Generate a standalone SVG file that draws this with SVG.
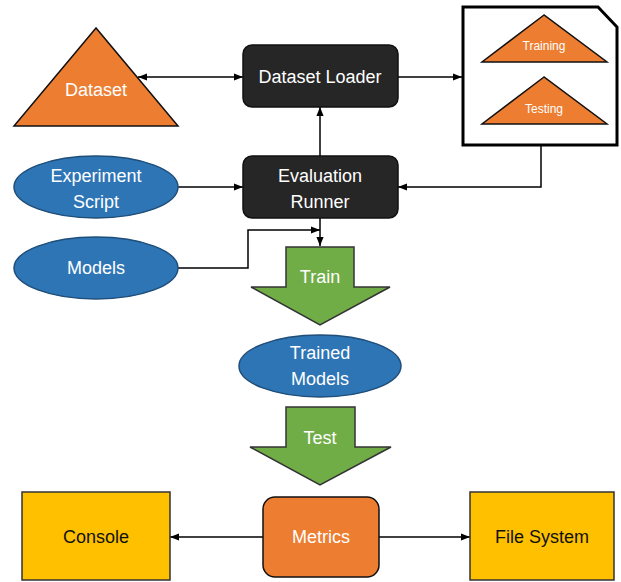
<svg xmlns="http://www.w3.org/2000/svg" width="621" height="582" viewBox="0 0 621 582">
<style>
text{font-family:"Liberation Sans",Arial,sans-serif;text-anchor:middle;dominant-baseline:central}
.w{fill:#fff;font-size:18px}
.k{fill:#111;font-size:18px}
.s{fill:#fff;font-size:12px}
.tri{fill:#ED7D31;stroke:#111;stroke-width:1.5}
.dark{fill:#262626;stroke:#111;stroke-width:1.5}
.ell{fill:#2E75B6;stroke:#1F4E79;stroke-width:1.5}
.grn{fill:#70AD47;stroke:#333;stroke-width:1.5}
.yel{fill:#FFC000;stroke:#333;stroke-width:1.5}
.org{fill:#ED7D31;stroke:#111;stroke-width:1.5}
.c{fill:none;stroke:#000;stroke-width:1.5}
</style>
<defs>
<marker id="ah" viewBox="0 0 10 10" refX="10" refY="5" markerWidth="6" markerHeight="6" orient="auto-start-reverse">
<path d="M0,1 L10,5 L0,9 Z" fill="#000"/>
</marker>
</defs>
<g id="connectors">
<line class="c" x1="138" y1="77" x2="243" y2="77" marker-start="url(#ah)" marker-end="url(#ah)"/>
<line class="c" x1="398" y1="77" x2="462" y2="77" marker-end="url(#ah)"/>
<line class="c" x1="320" y1="156" x2="320" y2="107" marker-end="url(#ah)"/>
<polyline class="c" points="541,145 541,187 398,187" marker-end="url(#ah)"/>
<line class="c" x1="178" y1="187" x2="243" y2="187" marker-end="url(#ah)"/>
<polyline class="c" points="178,268 248,268 248,230 320,230" marker-end="url(#ah)"/>
<line class="c" x1="320" y1="218" x2="320" y2="246" marker-end="url(#ah)"/>
<line class="c" x1="263" y1="537" x2="170" y2="537" marker-end="url(#ah)"/>
<line class="c" x1="379" y1="537" x2="470" y2="537" marker-end="url(#ah)"/>
</g>
<g id="dataset">
<polygon class="tri" points="96,28 14,126 178,126"/>
<text class="w" x="96" y="90">Dataset</text>
</g>
<g id="dataset-loader">
<rect class="dark" x="243" y="45" width="155" height="62" rx="9"/>
<text class="w" x="320" y="77">Dataset Loader</text>
</g>
<g id="splits">
<path d="M463,7 L598,7 L617,27 L617,145 L463,145 Z" fill="#fff" stroke="#000" stroke-width="3"/>
<polygon class="tri" points="544,15 482,62 607,62"/>
<text class="s" x="544" y="46">Training</text>
<polygon class="tri" points="544,77 482,124 607,124"/>
<text class="s" x="544" y="109">Testing</text>
</g>
<g id="evaluation-runner">
<rect class="dark" x="243" y="156" width="155" height="62" rx="9"/>
<text class="w" x="320" y="176">Evaluation</text>
<text class="w" x="320" y="202">Runner</text>
</g>
<g id="experiment-script">
<ellipse class="ell" cx="96" cy="187" rx="82" ry="31"/>
<text class="w" x="96" y="176">Experiment</text>
<text class="w" x="96" y="202">Script</text>
</g>
<g id="models">
<ellipse class="ell" cx="96" cy="268" rx="82" ry="31"/>
<text class="w" x="96" y="268">Models</text>
</g>
<g id="train">
<polygon class="grn" points="286,247 354,247 354,287 390,287 320,325 251,287 286,287"/>
<text class="w" x="320" y="277">Train</text>
</g>
<g id="trained-models">
<ellipse class="ell" cx="320" cy="366" rx="81" ry="31"/>
<text class="w" x="320" y="353">Trained</text>
<text class="w" x="320" y="379">Models</text>
</g>
<g id="test">
<polygon class="grn" points="286,407 355,407 355,447 391,447 320,485 250,447 286,447"/>
<text class="w" x="320" y="438">Test</text>
</g>
<g id="console">
<rect class="yel" x="22" y="492" width="148" height="88"/>
<text class="k" x="96" y="537">Console</text>
</g>
<g id="metrics">
<rect class="org" x="263" y="497" width="116" height="80" rx="12"/>
<text class="w" x="321" y="537">Metrics</text>
</g>
<g id="file-system">
<rect class="yel" x="470" y="492" width="144" height="88"/>
<text class="k" x="542" y="537">File System</text>
</g>
</svg>
